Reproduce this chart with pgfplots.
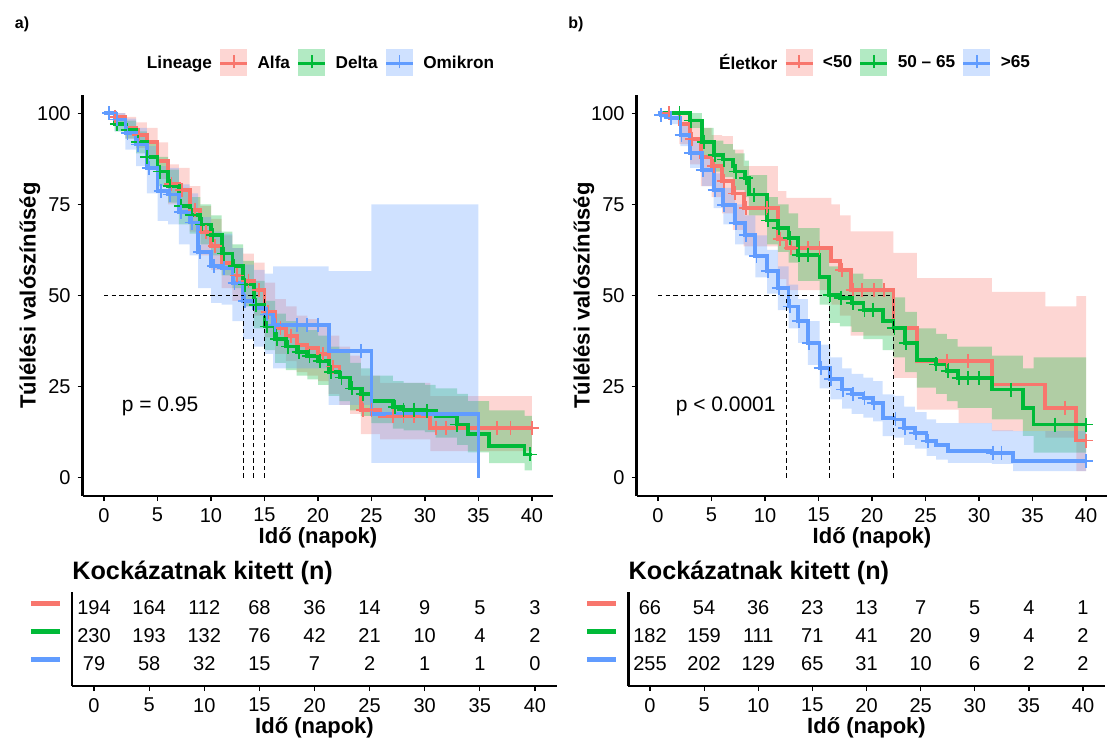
\documentclass[border=0pt]{standalone}
\usepackage{fontspec}
\setmainfont{Liberation Sans}
\usepackage{pgfplots}
\usepackage{pgfplotstable}
\pgfplotsset{compat=1.18}
\usepgfplotslibrary{fillbetween}

\definecolor{cA}{HTML}{F8766D}
\definecolor{cB}{HTML}{00BA38}
\definecolor{cC}{HTML}{619CFF}

% ---- a) Lineage: t, survival, lower, upper (%)
\pgfplotstableread{
t s lo hi
0 100 100 100
1 99 97 100
2 96 93 99
3 94 90.5 97.5
4 92 88 96
5 87 82 92
6 80.5 75 86
7 79 73.5 85
8 73.5 67.5 80
9 67.5 61 74.5
10 63.5 57 71
11 59 52 66.5
12 55.5 48.5 63
13 54 47 61.5
14 51.5 44.5 59
15 45.5 38.5 53.5
16 41 34 49
17 39 32 47
18 36.5 29 44.5
19 35.5 28 43.5
20 34 26.5 42
21 30.5 23 39
22 27.5 20 36
23 24.5 17.5 33.5
24 18.7 12 28
25.8 16.9 10.5 26
30.5 13.7 7.3 22.4
40 13.7 7.3 22.4
}\LA
\pgfplotstableread{
t s lo hi
0 100 100 100
1 97 95 99
2 95.5 93 98
3 92 89 95
4 88 84.5 91.5
5 84 80 88
6 80 75.5 84.5
7 74.5 69.5 79.5
8 72 67 77
9 69.5 64 75
10 66.5 61 72
11 61.5 55.5 67.5
12 58 52 64
13 53 47 59.5
14 47.5 41 54
15 41.5 35 48.5
16 38 31.5 45
17 36 29.5 43
18 34.5 28 41.5
19 33.5 27 40.5
20 32 25.5 39
21 29 22.5 36
22 27.5 21 34.5
23 24.5 18.5 31.5
24 23 17 30
25 21 15 28
27 19.5 13.5 26.5
28 18.7 13 26
30 18.3 12.5 25.5
31 17 11 24.5
33 14.6 9 23
34 12 7 21
36 8.7 4 18.5
39.3 6.4 2 17
40 6.4 2 17
}\LD
\pgfplotstableread{
t s lo hi
0 100 100 100
1 98.3 95 100
2 94.6 90 98.5
3 91.4 85.5 96
4 85 78 91
5 78.6 70.5 85.5
6 77.7 69.5 85
7 73 64 80.5
8 70 61 78
8.8 62 52 71.5
10 58 48 67.5
11 57.6 47.5 67
12 53.5 43 63
13 48.4 38 58.5
14 46.5 36 57
15 44.8 34 56
15.8 42 30 58
21 34.7 20 56.7
25 17.4 4.1 75
35 0 4.1 75
}\LO
\pgfplotstableread{
t s
1 99
3.3 94
6.3 80.5
7.3 79
8.5 73.5
9.5 67.5
10.4 63.5
12.4 55.5
13.5 54
14.5 51.5
15.3 45.5
16.5 41
17.5 39
20.5 34
21.4 30.5
24.2 18.7
25 18.7
27 16.9
28 16.9
29 16.9
31 13.7
32 13.7
36.7 13.7
38 13.7
40 13.7
}\LAm
\pgfplotstableread{
t s
1.2 97
2.2 95.5
3.2 92
4 88
5.2 84
6.2 80
7.2 74.5
8.2 72
9.2 69.5
10.2 66.5
11.2 61.5
12.2 58
13.2 53
14.2 47.5
15.2 41.5
16.2 38
17.2 36
18.2 34.5
19.2 33.5
20.2 32
21.2 29
22.2 27.5
23.2 24.5
24.2 23
27.2 19.5
28 18.7
29 18.7
30.2 18.3
33 14.6
39.8 6.4
}\LDm
\pgfplotstableread{
t s
0.5 100
1.2 98.3
2.2 94.6
3.2 91.4
4.2 85
5.3 78.6
6.2 77.7
7.2 73
8.2 70
9 62
10.3 58
11.2 57.6
12.2 53.5
13.2 48.4
15.2 44.8
16 42
18 42
19 42
20 42
24 34.7
}\LOm

% ---- b) Eletkor
\pgfplotstableread{
t s lo hi
0 100 100 100
1 100 100 100
2 97 91.5 100
3 93 86 98.5
4 88 80 96
5 85.5 77 94
6 81.5 72.5 93.7
7 78 68 90
8 74 63.5 85.5
11.2 65.5 54.5 78.6
12 63 51.5 76.8
16.2 59.5 47.5 75
17 57 44.5 72
18 51.5 39 67.6
22 41 27.4 61.7
24.2 32 18.7 54.8
28.1 32 15 54.8
31.2 25.6 12.8 51
36.2 19.2 11 47
39.1 10.2 1.8 49.8
40 10.2 1.8 49.8
}\RA
\pgfplotstableread{
t s lo hi
0 100 100 100
2 100 100 100
3 98 96 100
4.1 92.2 88.5 96
5.2 88.5 84 92.5
6.1 87.3 82.5 91.5
7 85.5 80.5 90
7.2 84 79 89
8.1 82.3 77 87
8.5 77.7 72 83
10.2 70.6 64 77
11.2 68.5 62 75
12.2 65.8 59 72.5
13.1 61.2 54 68.5
15.1 55 47.5 62.5
16 50.2 42.5 58
17 49.4 41.5 57.5
18.1 48 40 56
19.2 46.1 38 54.5
21 43 35 51.5
22 41.1 33 49.5
23.1 37 29 45.5
24.2 32.4 24.7 41
26 31.1 23 39.5
27 29.3 21 38
28 27.4 19.2 36
31.2 24.2 16 33.5
34.1 19.2 11.5 30
35.1 14.6 6.9 33
40 14.6 6.9 33
}\RD
\pgfplotstableread{
t s lo hi
0 100 100 100
0.3 99.6 98.8 100
1.1 98.6 97 99.8
2.1 94.1 91 96.5
3 89 85 92.5
4.1 84.5 80 88.5
5.2 79 74 83.5
6.1 74.9 69.5 79.5
7.2 69.9 64 75
8.1 66.7 61 72
9.1 60.8 55 66.5
10.2 56.7 50.5 62.5
11.2 52 46 58
12.2 47 41 53
13.1 43 37 49
14 37 31 43
15.1 30.2 24.5 36.5
16.1 27 21.5 33
17.2 24.2 19 30
18.1 22.9 17.5 28.5
19.2 21.9 16.5 27.5
20.1 20.6 15.5 26.5
21 16.5 11.4 22.9
22.1 16 11 22.5
23 13.7 9 19.5
24 12.3 8 18
25.1 10 6 16
26 9.1 5 15
27.1 7.3 4.1 15
31.2 6.9 3.8 13
33.2 4.6 1.8 12.8
40 4.6 1.8 12.8
}\RO
\pgfplotstableread{
t s
1 100
3.2 93
5.2 85.5
6.2 81.5
7.2 78
8.2 74
10.2 74
11.4 65.5
12.4 63
14 63
15.1 63
17.2 57
18.2 51.5
19.1 51.5
20.2 51.5
21.1 51.5
27 32
29 32
38 19.2
40 10.2
}\RAm
\pgfplotstableread{
t s
2 100
3.1 98
4.3 92.2
5.3 88.5
6.2 87.3
7.3 84
8.2 82.3
9 77.7
10.3 70.6
11.3 68.5
12.3 65.8
13.2 61.2
14 61.2
16.1 50.2
17.1 49.4
18.2 48
19.3 46.1
20.1 46.1
22.1 41.1
23.2 37
26 31.1
27.1 29.3
28.1 27.4
29 27.4
30 27.4
33 24.2
37.1 14.6
40 14.6
}\RDm
\pgfplotstableread{
t s
0.3 99.6
1.2 98.6
2.2 94.1
3.1 89
4.2 84.5
5.3 79
6.2 74.9
7.3 69.9
8.2 66.7
9.2 60.8
10.3 56.7
11.3 52
12.3 47
13.2 43
14.1 37
15.2 30.2
16.2 27
17.3 24.2
18.2 22.9
19.3 21.9
20.2 20.6
22.2 16
23.1 13.7
24.1 12.3
25.2 10
31.3 6.9
32.1 6.9
40 4.6
}\ROm

% ---- numbers at risk
\pgfplotstableread{
x y n
0 3 194
5 3 164
10 3 112
15 3 68
20 3 36
25 3 14
30 3 9
35 3 5
40 3 3
0 2 230
5 2 193
10 2 132
15 2 76
20 2 42
25 2 21
30 2 10
35 2 4
40 2 2
0 1 79
5 1 58
10 1 32
15 1 15
20 1 7
25 1 2
30 1 1
35 1 1
40 1 0
}\RiskA
\pgfplotstableread{
x y n
0 3 66
5 3 54
10 3 36
15 3 23
20 3 13
25 3 7
30 3 5
35 3 4
40 3 1
0 2 182
5 2 159
10 2 111
15 2 71
20 2 41
25 2 20
30 2 9
35 2 4
40 2 2
0 1 255
5 1 202
10 1 129
15 1 65
20 1 31
25 1 10
30 1 6
35 1 2
40 1 2
}\RiskB

\newcommand{\kmline}[2]{\addplot[const plot, line width=1.9pt, color=#2, forget plot] table[x=t,y=s]{#1};}
\newcommand{\kmband}[3]{%
  \addplot[const plot, draw=none, name path=#3u, forget plot] table[x=t,y=hi]{#1};
  \addplot[const plot, draw=none, name path=#3l, forget plot] table[x=t,y=lo]{#1};
  \addplot[fill=#2, fill opacity=0.3, draw=none, forget plot] fill between[of=#3u and #3l];}
\newcommand{\kmmarks}[2]{\addplot[only marks, mark=+, mark size=3.5pt, line width=0.9pt, color=#2, forget plot] table[x=t,y=s]{#1};}
\newcommand{\keyimg}[1]{\addlegendimage{legend image code/.code={%
  \path[draw=none, fill=#1, fill opacity=0.3] (0pt,-6.5pt) rectangle (13.5pt,7pt);
  \draw[#1, line width=1.3pt] (0pt,0pt) -- (13.5pt,0pt);
  \draw[#1, line width=0.8pt] (6.75pt,-2.5pt) -- (6.75pt,4pt);}}}
\newcommand{\riskbar}[1]{\textcolor{#1}{\rule{14.5pt}{2.6pt}}}

\pgfplotsset{
  base/.style={
    scale only axis, xmin=-2, xmax=42,
    axis x line*=bottom, axis y line*=left,
    axis line style={line width=1.2pt, -},
    xtick={0,5,...,40}, tick align=outside, major tick length=2.5pt,
    tick style={black, line width=0.6pt},
    tick label style={font=\fontsize{10}{12}\selectfont},
    /pgf/number format/assume math mode=true,
    label style={font=\bfseries\fontsize{11}{13}\selectfont},
    xlabel={Idő (napok)},
  },
  km/.style={base, width=235.4pt, height=200.5pt, ymin=-5, ymax=105,
    ytick={0,25,50,75,100},
    ylabel={Túlélési valószínűség},
    xlabel style={at={(axis description cs:0.5,-0.104)}, anchor=center},
    ylabel style={at={(axis description cs:-0.112,0.5)}, anchor=center},
    legend style={at={(axis description cs:0.5,1.08)}, anchor=center,
      draw=none, fill=none, legend columns=-1,
      font=\bfseries\fontsize{8.6}{10}\selectfont,
      /tikz/every even column/.append style={column sep=1.5pt},
      /tikz/every odd column/.append style={column sep=2.5pt}},
  },
  risk/.style={base, height=47pt, ymin=0.2, ymax=3.55,
    ytick={1,2,3}, y tick style={draw=none},
    yticklabel style={yshift=2pt},
    xlabel style={at={(axis description cs:0.5,-0.45)}, anchor=center},
    every axis title shift=0pt,
    title style={at={(axis description cs:0,1.2)}, anchor=west, inner sep=0pt,
      yshift=0pt, font=\bfseries\fontsize{12.6}{14}\selectfont},
    title={Kockázatnak kitett (n)},
    nodes near coords, point meta=explicit symbolic,
    nodes near coords align={center},
    every node near coord/.append style={font=\fontsize{10}{12}\selectfont, black},
  },
  med/.style={black, dash pattern=on 2.2pt off 1.6pt, line width=0.6pt, forget plot},
}

\begin{document}
\begin{tikzpicture}
\node[font=\bfseries\fontsize{8}{9}\selectfont] at (11pt,358pt) {a)};
\node[font=\bfseries\fontsize{8}{9}\selectfont] at (288pt,358pt) {b)};

% ---------- a) curves
\begin{axis}[km, at={(41.3pt,122pt)}, anchor=south west]
\addlegendimage{empty legend}\addlegendentry{Lineage}
\keyimg{cA}\addlegendentry{Alfa}
\keyimg{cB}\addlegendentry{Delta}
\keyimg{cC}\addlegendentry{Omikron}
\kmline{\LA}{cA}
\kmline{\LD}{cB}
\kmline{\LO}{cC}
\kmband{\LA}{cA}{la}
\kmband{\LD}{cB}{ld}
\kmband{\LO}{cC}{lo}
\kmmarks{\LAm}{cA}
\kmmarks{\LDm}{cB}
\kmmarks{\LOm}{cC}
\addplot[med] coordinates {(0,50) (15,50)};
\addplot[med] coordinates {(13,0) (13,50)};
\addplot[med] coordinates {(14,0) (14,50)};
\addplot[med] coordinates {(15,0) (15,50)};
\node[anchor=west, font=\fontsize{10.5}{12}\selectfont] at (axis cs:1.0,19.7) {p = 0.95};
\end{axis}

% ---------- b) curves
\begin{axis}[km, at={(318.3pt,122pt)}, anchor=south west]
\addlegendimage{empty legend}\addlegendentry{Életkor}
\keyimg{cA}\addlegendentry{<50}
\keyimg{cB}\addlegendentry{50 – 65}
\keyimg{cC}\addlegendentry{>65}
\kmline{\RA}{cA}
\kmline{\RD}{cB}
\kmline{\RO}{cC}
\kmband{\RA}{cA}{ra}
\kmband{\RD}{cB}{rd}
\kmband{\RO}{cC}{ro}
\kmmarks{\RAm}{cA}
\kmmarks{\RDm}{cB}
\kmmarks{\ROm}{cC}
\addplot[med] coordinates {(0,50) (22,50)};
\addplot[med] coordinates {(12,0) (12,50)};
\addplot[med] coordinates {(16,0) (16,50)};
\addplot[med] coordinates {(22,0) (22,50)};
\node[anchor=west, font=\fontsize{10.5}{12}\selectfont] at (axis cs:1.0,19.7) {p < 0.0001};
\end{axis}

% ---------- risk tables
\begin{axis}[risk, at={(36pt,27pt)}, anchor=south west, width=242.5pt,
  yticklabels={\riskbar{cC},\riskbar{cB},\riskbar{cA}}]
\addplot[draw=none, mark=none] table[x=x, y=y, meta=n] {\RiskA};
\end{axis}
\begin{axis}[risk, at={(314.15pt,27pt)}, anchor=south west, width=238.2pt,
  yticklabels={\riskbar{cC},\riskbar{cB},\riskbar{cA}}]
\addplot[draw=none, mark=none] table[x=x, y=y, meta=n] {\RiskB};
\end{axis}
\pgfresetboundingbox
\path[use as bounding box] (0,0) rectangle (553.5pt,370pt);
\end{tikzpicture}
\end{document}
